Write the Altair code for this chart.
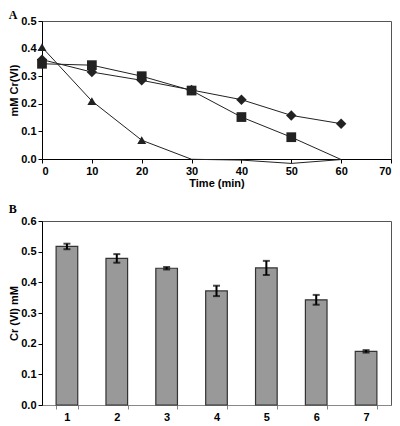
import altair as alt
import pandas as pd

# Panel A data
time = [0, 10, 20, 30, 40, 50, 60]
diamond = [0.36, 0.315, 0.285, 0.25, 0.215, 0.158, 0.128]
square = [0.345, 0.34, 0.30, 0.248, 0.152, 0.079, -0.002]
triangle = [0.405, 0.21, 0.068, -0.001, -0.004, -0.016, -0.002]

# Panel B data
groups = ["1", "2", "3", "4", "5", "6", "7"]
means = [0.517, 0.478, 0.446, 0.372, 0.447, 0.343, 0.175]
errs = [0.009, 0.014, 0.004, 0.017, 0.023, 0.016, 0.004]

rows = []
for name, vals in [("diamond", diamond), ("square", square), ("triangle-up", triangle)]:
    for t, v in zip(time, vals):
        rows.append({"time": t, "value": v, "series": name})
dfa = pd.DataFrame(rows)

dfb = pd.DataFrame({"group": groups, "mean": means, "err": errs})
dfb["lo"] = dfb["mean"] - dfb["err"]
dfb["hi"] = dfb["mean"] + dfb["err"]

FONT = "Liberation Sans"
W = 349

xA = alt.X("time:Q", scale=alt.Scale(domain=[0, 70], nice=False),
           axis=alt.Axis(title="Time (min)", tickCount=7,
                         grid=False, domainColor="#000", tickColor="#000",
                         tickSize=4, labelPadding=2, titlePadding=1))
yA = alt.Y("value:Q", scale=alt.Scale(domain=[0, 0.5], nice=False),
           axis=alt.Axis(title="mM Cr(VI)", tickCount=5,
                         format=".1f", grid=False, domainColor="#000", tickColor="#000",
                         tickSize=4, labelPadding=2, titlePadding=1))

lines = alt.Chart(dfa).mark_line(color="#222", strokeWidth=1, clip=False).encode(
    x=xA, y=yA, detail="series:N", order="time:Q")
pts = alt.Chart(dfa).transform_filter("datum.value >= 0").mark_point(
    filled=True, color="#222", opacity=1).encode(
    x="time:Q", y="value:Q",
    shape=alt.Shape("series:N", scale=alt.Scale(domain=["diamond", "square", "triangle-up"],
                                                range=["diamond", "square", "triangle-up"]),
                    legend=None),
    size=alt.Size("series:N", scale=alt.Scale(domain=["diamond", "square", "triangle-up"],
                                              range=[110, 80, 80]), legend=None))

panelA = alt.layer(lines, pts).properties(
    width=W, height=138,
    title=alt.TitleParams("A", anchor="start", frame="bounds", font="Liberation Serif",
                          fontSize=12, fontWeight="bold", offset=-7))

xB = alt.X("group:N", scale=alt.Scale(paddingInner=0.566, paddingOuter=0.283),
           axis=alt.Axis(title=None, labelAngle=0, tickBand="extent", domainColor="#888",
                         tickColor="#888", tickSize=4, labelPadding=2))
yB = alt.Y("mean:Q", scale=alt.Scale(domain=[0, 0.6], nice=False),
           axis=alt.Axis(title="Cr (VI) mM", tickCount=6,
                         format=".1f", grid=False, domainColor="#000", tickColor="#000",
                         tickSize=4, labelPadding=2, titlePadding=1))

bars = alt.Chart(dfb).mark_bar(color="#999999", stroke="#333", strokeWidth=1.2).encode(x=xB, y=yB)
rule = alt.Chart(dfb).mark_rule(color="#000", strokeWidth=2).encode(
    x="group:N", y="lo:Q", y2="hi:Q")
capLo = alt.Chart(dfb).mark_tick(color="#000", thickness=2, size=7, orient="horizontal").encode(
    x="group:N", y="lo:Q")
capHi = alt.Chart(dfb).mark_tick(color="#000", thickness=2, size=7, orient="horizontal").encode(
    x="group:N", y="hi:Q")

panelB = alt.layer(bars, rule, capLo, capHi).properties(
    width=W, height=184,
    title=alt.TitleParams("B", anchor="start", frame="bounds", font="Liberation Serif",
                          fontSize=12, fontWeight="bold", offset=-1))

chart = alt.vconcat(panelA, panelB, spacing=13).configure(
    padding={"left": 0, "top": 0, "right": 0, "bottom": 0}
).configure_view(
    stroke="#555", strokeWidth=1
).configure_axis(
    labelFont=FONT, labelFontSize=11, labelFontWeight="bold", labelColor="#000",
    titleFont=FONT, titleFontSize=11, titleFontWeight="bold", titleColor="#000",
    labelOverlap=False,
)

chart.save("out.html", embed_options={"renderer": "svg", "actions": False})
